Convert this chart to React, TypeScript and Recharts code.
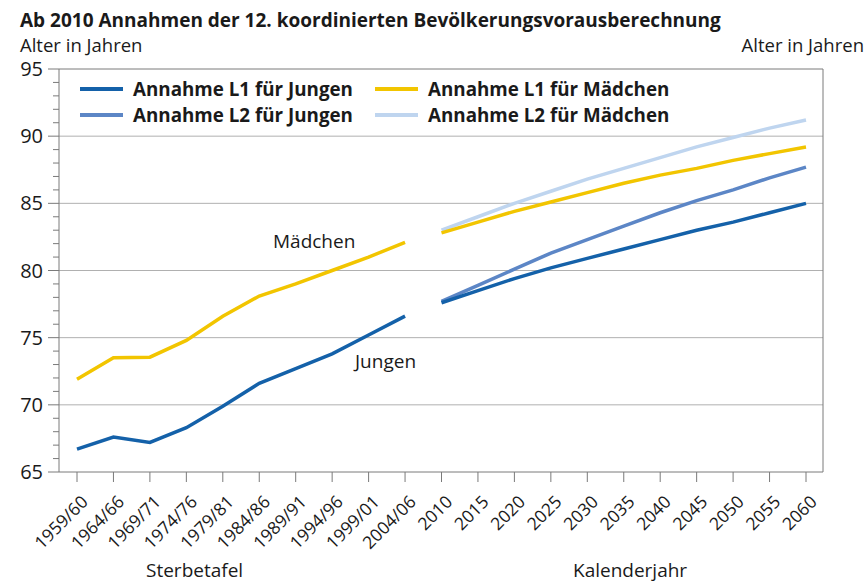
import { Line, LineChart, ReferenceLine, XAxis, YAxis } from "recharts";

// Kategorien: Sterbetafeln (historisch) und Kalenderjahre (Vorausberechnung)
const categories = [
  "1959/60", "1964/66", "1969/71", "1974/76", "1979/81", "1984/86",
  "1989/91", "1994/96", "1999/01", "2004/06",
  "2010", "2015", "2020", "2025", "2030", "2035", "2040", "2045", "2050", "2055", "2060",
];

const histJungen = [66.7, 67.6, 67.2, 68.3, 69.9, 71.6, 72.7, 73.8, 75.2, 76.6];
const histMaedchen = [71.9, 73.5, 73.55, 74.8, 76.6, 78.1, 79.0, 80.0, 81.0, 82.1];

const l1Jungen = [77.6, 78.5, 79.4, 80.2, 80.9, 81.6, 82.3, 83.0, 83.6, 84.3, 85.0];
const l2Jungen = [77.7, 78.9, 80.1, 81.3, 82.3, 83.3, 84.3, 85.2, 86.0, 86.9, 87.7];
const l1Maedchen = [82.8, 83.6, 84.4, 85.1, 85.8, 86.5, 87.1, 87.6, 88.2, 88.7, 89.2];
const l2Maedchen = [83.0, 84.0, 85.0, 85.9, 86.8, 87.6, 88.4, 89.2, 89.9, 90.6, 91.2];

const yTicks = Array.from({ length: 31 }, (_, i) => 65 + i);
const gridValues = [70, 75, 80, 85, 90];

const COLORS = {
  l1Jungen: "#1461a9",
  l2Jungen: "#5c86c6",
  l1Maedchen: "#f2c500",
  l2Maedchen: "#bfd5ef",
};

const legendItems = [
  { label: "Annahme L1 für Jungen", color: COLORS.l1Jungen },
  { label: "Annahme L1 für Mädchen", color: COLORS.l1Maedchen },
  { label: "Annahme L2 für Jungen", color: COLORS.l2Jungen },
  { label: "Annahme L2 für Mädchen", color: COLORS.l2Maedchen },
];

const HIST = histJungen.length;

const data = categories.map((cat, i) => ({
  cat,
  histJ: i < HIST ? histJungen[i] : null,
  histM: i < HIST ? histMaedchen[i] : null,
  l1J: i >= HIST ? l1Jungen[i - HIST] : null,
  l2J: i >= HIST ? l2Jungen[i - HIST] : null,
  l1M: i >= HIST ? l1Maedchen[i - HIST] : null,
  l2M: i >= HIST ? l2Maedchen[i - HIST] : null,
}));

const FONT = "'Open Sans', 'Noto Sans', sans-serif";
const TEXT = "#1a1a1a";
const AXIS = "#7a7a7a";

function LeftTick({ x, y, payload }: any) {
  const major = payload.value % 5 === 0;
  return (
    <g>
      <line x1={x - (major ? 11 : 6)} x2={x} y1={y} y2={y} stroke={AXIS} />
      {major && (
        <text x={x - 16} y={y} dy="0.35em" textAnchor="end" fontSize={20} fill={TEXT} fontFamily={FONT}>
          {payload.value}
        </text>
      )}
    </g>
  );
}

function RightTick({ x, y, payload }: any) {
  const major = payload.value % 5 === 0;
  return (
    <g>
      <line x1={x} x2={x + (major ? 10 : 6)} y1={y} y2={y} stroke={AXIS} />
      {major && (
        <text x={x + 20} y={y} dy="0.35em" textAnchor="start" fontSize={20} fill={TEXT} fontFamily={FONT}>
          {payload.value}
        </text>
      )}
    </g>
  );
}

function BottomTick({ x, y, payload }: any) {
  const tx = x + 12;
  const ty = y + 31;
  return (
    <g>
      <line x1={x} x2={x} y1={y} y2={y + 10} stroke={AXIS} />
      <text
        x={tx}
        y={ty}
        textAnchor="end"
        fontSize={17.5}
        fill={TEXT}
        fontFamily={FONT}
        transform={`rotate(-45 ${tx} ${ty})`}
      >
        {payload.value}
      </text>
    </g>
  );
}

const label = (left: number, top: number, size = 19) => ({
  position: "absolute" as const,
  left,
  top,
  fontSize: size,
  lineHeight: 1,
  whiteSpace: "nowrap" as const,
});

export default function App() {
  return (
    <div style={{ position: "relative", width: 867, height: 585, fontFamily: FONT, color: TEXT, background: "#fff", overflow: "hidden" }}>
      <style>{"body{margin:0}"}</style>
      <div style={{ ...label(20, 11), fontWeight: 700 }}>
        Ab 2010 Annahmen der 12. koordinierten Bevölkerungsvorausberechnung
      </div>
      <div style={label(20, 36, 18.5)}>Alter in Jahren</div>
      <div style={{ ...label(0, 36, 18.5), left: undefined, right: 3 }}>Alter in Jahren</div>

      <LineChart width={867} height={585} data={data} margin={{ top: 69, right: 43, bottom: 112, left: 58 }}>
        {gridValues.map((v) => (
          <ReferenceLine key={v} yAxisId="left" y={v} stroke="#b0b0b0" strokeWidth={1} />
        ))}
        <ReferenceLine yAxisId="left" y={95} stroke={AXIS} strokeWidth={1} />
        <XAxis
          dataKey="cat"
          interval={0}
          height={1}
          tickSize={0}
          tickMargin={0}
          padding={{ left: 18, right: 17 }}
          stroke={AXIS}
          tick={<BottomTick />}
        />
        <YAxis
          yAxisId="left"
          type="number"
          domain={[65, 95]}
          ticks={yTicks}
          interval={0}
          width={1}
          tickSize={0}
          tickMargin={0}
          stroke={AXIS}
          tick={<LeftTick />}
        />
        <YAxis
          yAxisId="right"
          orientation="right"
          type="number"
          domain={[65, 95]}
          ticks={yTicks}
          interval={0}
          width={1}
          tickSize={0}
          tickMargin={0}
          stroke={AXIS}
          tick={<RightTick />}
        />
        <Line yAxisId="left" dataKey="histM" stroke={COLORS.l1Maedchen} strokeWidth={3.5} dot={false} isAnimationActive={false} />
        <Line yAxisId="left" dataKey="histJ" stroke={COLORS.l1Jungen} strokeWidth={3.5} dot={false} isAnimationActive={false} />
        <Line yAxisId="left" dataKey="l2M" stroke={COLORS.l2Maedchen} strokeWidth={3.5} dot={false} isAnimationActive={false} />
        <Line yAxisId="left" dataKey="l1M" stroke={COLORS.l1Maedchen} strokeWidth={3.5} dot={false} isAnimationActive={false} />
        <Line yAxisId="left" dataKey="l2J" stroke={COLORS.l2Jungen} strokeWidth={3.5} dot={false} isAnimationActive={false} />
        <Line yAxisId="left" dataKey="l1J" stroke={COLORS.l1Jungen} strokeWidth={3.5} dot={false} isAnimationActive={false} />
      </LineChart>

      <div
        style={{
          position: "absolute",
          left: 80,
          top: 76,
          display: "grid",
          gridTemplateColumns: "295px auto",
          fontSize: 18.8,
          fontWeight: 700,
        }}
      >
        {legendItems.map((item) => (
          <div key={item.label} style={{ display: "flex", alignItems: "center", height: 26, whiteSpace: "nowrap" }}>
            <span style={{ display: "inline-block", width: 43, height: 3.5, background: item.color, marginRight: 10 }} />
            {item.label}
          </div>
        ))}
      </div>

      <div style={label(273, 232)}>Mädchen</div>
      <div style={label(355, 352)}>Jungen</div>
      <div style={label(146, 561)}>Sterbetafel</div>
      <div style={label(573, 561)}>Kalenderjahr</div>
    </div>
  );
}
